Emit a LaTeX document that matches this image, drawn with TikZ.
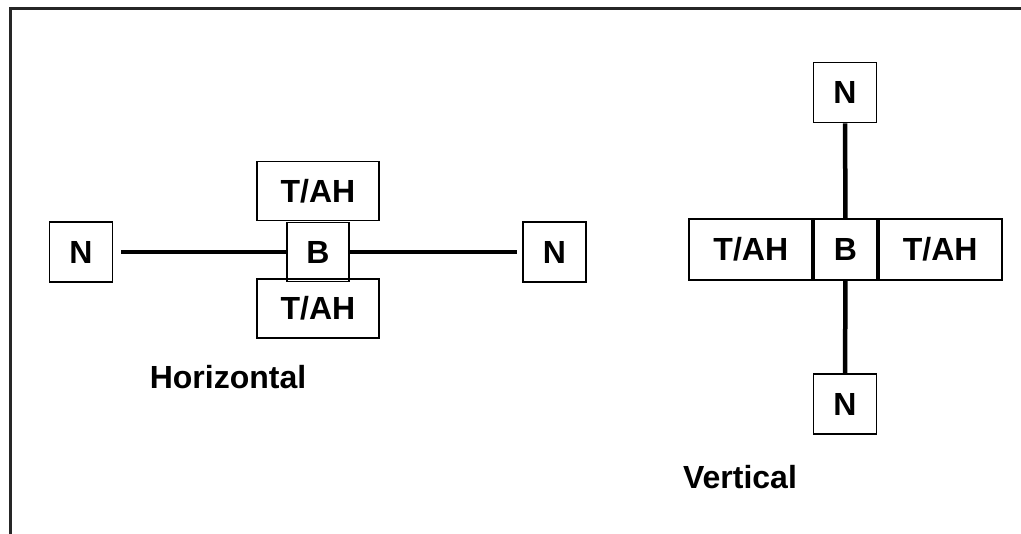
\documentclass[tikz,border=0pt]{standalone}
\usepackage{fontspec}
\setmainfont{Liberation Sans}
\usetikzlibrary{positioning}

\begin{document}
\begin{tikzpicture}[x=1pt, y=-1pt,
  box/.style={draw, line width=1.7pt, inner sep=0pt, font=\fontsize{32}{36}\selectfont\bfseries},
  nbox/.style={box, minimum width=63pt, minimum height=60pt},
  wbox/.style={box, minimum width=122pt, minimum height=59pt},
  bbox/.style={box, minimum width=62pt, minimum height=59pt},
  link/.style={line width=4.5pt},
  caption/.style={font=\fontsize{32}{36}\selectfont\bfseries}]
  \useasboundingbox (0,0) rectangle (1021,534);

  % Rahmen
  \draw[black!85, line width=2.5pt] (1021,8.5) -- (10.5,8.5) -- (10.5,534);

  % Horizontal
  \node[nbox] (hnl) at (81,252) {N};
  \node[bbox] (hb) at (318,252) {B};
  \node[wbox] (hta) at (318,191) {T/AH};
  \node[wbox] (htb) at (318,308.5) {T/AH};
  \node[nbox] (hnr) at (554.5,252) {N};
  \draw[link, shorten <=8pt] (hnl) -- (hb);
  \draw[link, shorten >=5pt] (hb) -- (hnr);
  \node[caption] (hcap) at (228,377) {Horizontal};

  % Vertical
  \node[nbox] (vnt) at (845,92.5) {N};
  \node[nbox, minimum height=61pt] (vb) at (845.5,249.5) {B};
  \node[wbox, minimum width=123pt, minimum height=61pt, left=0pt of vb] (vl) {T/AH};
  \node[wbox, minimum width=123pt, minimum height=61pt, right=0pt of vb] (vr) {T/AH};
  \node[nbox] (vnb) at (845,404) {N};
  \draw[link] (vnt) -- (vb);
  \draw[link] (vb) -- (vnb);
  \node[caption] (vcap) at (740,477) {Vertical};
\end{tikzpicture}
\end{document}
